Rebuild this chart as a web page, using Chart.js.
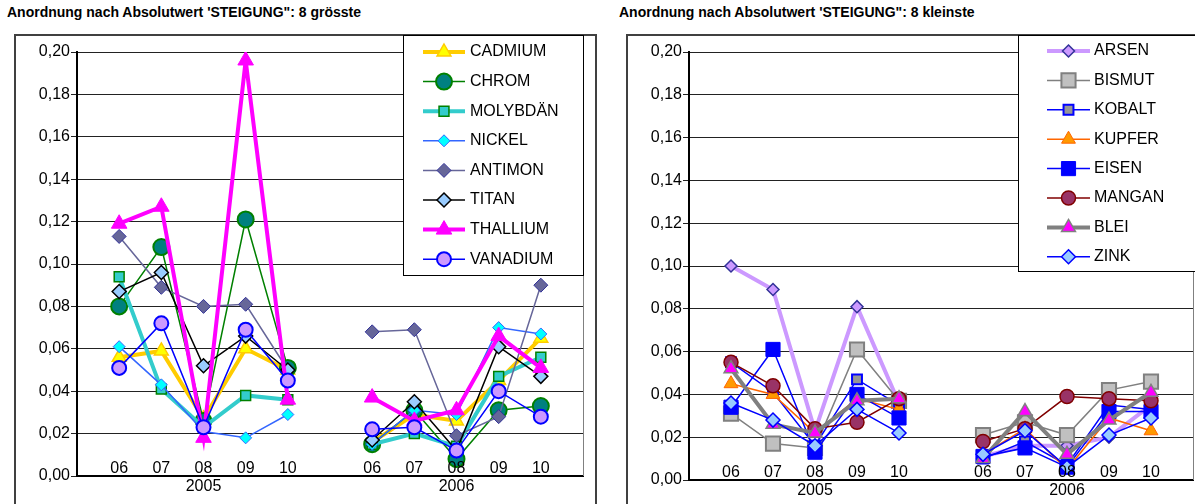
<!DOCTYPE html>
<html>
<head>
<meta charset="utf-8">
<script src="https://cdn.jsdelivr.net/npm/chart.js@4.4.0/dist/chart.umd.min.js"></script>
<style>
html, body { margin: 0; overflow: hidden; background: #fff; }
body { width: 1195px; height: 504px; font-family: 'Liberation Sans', Arial, sans-serif; }
.title { position: absolute; top: 4px; font-weight: bold; font-size: 14px; white-space: nowrap; }
.panel { position: absolute; top: 34px; height: 480px; border: 2px solid #404040; }
.box { position: absolute; top: 35px; width: 578px; height: 469px; }
</style>
</head>
<body>
<div class="title" style="left:7px">Anordnung nach Absolutwert 'STEIGUNG": 8 grösste</div>
<div class="title" style="left:619px">Anordnung nach Absolutwert 'STEIGUNG": 8 kleinste</div>
<div class="panel" style="left:14px;width:579px"></div>
<div class="panel" style="left:626px;width:600px"></div>
<div class="box" style="left:15px"><canvas id="chart1"></canvas></div>
<div class="box" style="left:627px"><canvas id="chart2"></canvas></div>
<script>
// months per year, then the two years
var monthLabels = ['06', '07', '08', '09', '10'];
var yearLabels = ['2005', '2006'];

// values: 5 months of 2005, then 5 months of 2006
// 8 groesste
var cadmium   = [0.056, 0.059, 0.027, 0.060, 0.050, 0.016, 0.029, 0.026, 0.045, 0.065];
var chrom     = [0.080, 0.108, 0.026, 0.121, 0.051, 0.015, 0.031, 0.008, 0.031, 0.033];
var molybdaen = [0.094, 0.041, 0.023, 0.038, 0.036, 0.015, 0.020, 0.014, 0.047, 0.056];
var nickel    = [0.061, 0.043, 0.021, 0.018, 0.029, 0.015, 0.031, 0.029, 0.070, 0.067];
var antimon   = [0.113, 0.089, 0.080, 0.081, 0.050, 0.068, 0.069, 0.019, 0.028, 0.090];
var titan     = [0.087, 0.096, 0.052, 0.066, 0.050, 0.017, 0.035, 0.012, 0.061, 0.047];
var thallium  = [0.119, 0.127, 0.018, 0.196, 0.036, 0.037, 0.026, 0.031, 0.066, 0.051];
var vanadium  = [0.051, 0.072, 0.023, 0.069, 0.045, 0.022, 0.023, 0.012, 0.040, 0.028];

// 8 kleinste
var arsen  = [0.100, 0.089, 0.023, 0.081, 0.036, 0.011, 0.016, 0.016, 0.020, 0.035];
var bismut = [0.031, 0.017, 0.015, 0.061, 0.037, 0.021, 0.027, 0.021, 0.042, 0.046];
var kobalt = [0.055, 0.041, 0.016, 0.047, 0.035, 0.010, 0.018, 0.007, 0.035, 0.033];
var kupfer = [0.045, 0.040, 0.022, 0.038, 0.033, 0.012, 0.024, 0.005, 0.029, 0.023];
var eisen  = [0.034, 0.061, 0.013, 0.040, 0.029, 0.011, 0.015, 0.006, 0.032, 0.032];
var mangan = [0.055, 0.044, 0.024, 0.027, 0.038, 0.018, 0.024, 0.039, 0.038, 0.037];
var blei   = [0.052, 0.026, 0.022, 0.037, 0.038, 0.010, 0.032, 0.012, 0.028, 0.041];
var zink   = [0.036, 0.028, 0.016, 0.033, 0.022, 0.012, 0.023, 0.006, 0.021, 0.029];

var FONT = "'Liberation Sans', Arial, sans-serif";
Chart.defaults.font.family = FONT;
Chart.defaults.font.size = 16;
Chart.defaults.color = '#000';

// x labels: empty slot, 06..10 (year under 08), empty slot, ...
var xLabels = [''];
yearLabels.forEach(function (yr) {
    monthLabels.forEach(function (m, j) { xLabels.push(j === 2 ? [m, yr] : m); });
    xLabels.push('');
});

function row(v) {
    return [null].concat(v.slice(0, 5), [null], v.slice(5, 10), [null]);
}

function series(label, values, color, width, style, radius, fill, border, bw) {
    return {
        label: label,
        data: row(values),
        borderColor: color,
        borderWidth: width,
        pointStyle: style,
        pointRadius: radius,
        pointHoverRadius: radius,
        pointBackgroundColor: fill,
        pointBorderColor: border,
        pointBorderWidth: bw,
        tension: 0,
        spanGaps: false
    };
}

function drawMarker(ctx, style, x, y, r, fill, stroke, bw) {
    ctx.beginPath();
    if (style === 'circle') {
        ctx.arc(x, y, r, 0, Math.PI * 2);
    } else if (style === 'rect') {
        var s = r * Math.SQRT1_2;
        ctx.rect(x - s, y - s, 2 * s, 2 * s);
    } else if (style === 'rectRot') {
        ctx.moveTo(x, y - r); ctx.lineTo(x + r, y); ctx.lineTo(x, y + r); ctx.lineTo(x - r, y);
        ctx.closePath();
    } else if (style === 'triangle') {
        ctx.moveTo(x, y - r);
        ctx.lineTo(x + 0.866 * r, y + 0.5 * r);
        ctx.lineTo(x - 0.866 * r, y + 0.5 * r);
        ctx.closePath();
    }
    ctx.fillStyle = fill;
    ctx.fill();
    ctx.lineWidth = bw;
    ctx.strokeStyle = stroke;
    ctx.stroke();
}

// month labels sit just above the axis line (inside the plot), years below it;
// then the grey right edge of the plot and the boxed legend
var boxLegend = {
    id: 'boxLegend',
    afterDraw: function (chart, args, o) {
        var ctx = chart.ctx, a = chart.chartArea, xs = chart.scales.x;
        ctx.save();
        ctx.fillStyle = '#000';
        ctx.font = '16px ' + FONT;
        ctx.textAlign = 'center';
        ctx.textBaseline = 'middle';
        chart.data.labels.forEach(function (lab, i) {
            var x = xs.getPixelForTick(i);
            var lines = Array.isArray(lab) ? lab : [lab];
            if (lines[0]) ctx.fillText(lines[0], x, a.bottom - 7);
            if (lines[1]) ctx.fillText(lines[1], x, a.bottom + 11);
        });

        ctx.strokeStyle = '#808080';
        ctx.lineWidth = 1;
        ctx.beginPath();
        ctx.moveTo(Math.round(a.right) + 0.5, a.top);
        ctx.lineTo(Math.round(a.right) + 0.5, a.bottom);
        ctx.stroke();

        ctx.fillStyle = '#fff';
        ctx.fillRect(o.x, o.y, o.w, o.h);
        ctx.strokeStyle = '#000';
        ctx.strokeRect(o.x + 0.5, o.y + 0.5, o.w, o.h);

        chart.data.datasets.forEach(function (ds, i) {
            var y = o.firstY + i * o.step;
            ctx.strokeStyle = ds.borderColor;
            ctx.lineWidth = ds.borderWidth;
            ctx.beginPath();
            ctx.moveTo(o.lineX1, y);
            ctx.lineTo(o.lineX2, y);
            ctx.stroke();
            drawMarker(ctx, ds.pointStyle, (o.lineX1 + o.lineX2) / 2, y, ds.pointRadius,
                ds.pointBackgroundColor, ds.pointBorderColor, ds.pointBorderWidth);
            ctx.fillStyle = '#000';
            ctx.font = '16px ' + FONT;
            ctx.textBaseline = 'middle';
            ctx.textAlign = 'left';
            ctx.fillText(ds.label, o.textX, y);
        });
        ctx.restore();
    }
};

function makeChart(id, datasets, legendOpts, xHeight) {
    var n = datasets.length;
    datasets.forEach(function (ds, i) { ds.order = n - i; });
    return new Chart(document.getElementById(id), {
        type: 'line',
        data: { labels: xLabels, datasets: datasets },
        plugins: [boxLegend],
        options: {
            responsive: true,
            maintainAspectRatio: false,
            animation: false,
            layout: { padding: { top: 17, right: 1, left: 0, bottom: 0 } },
            plugins: {
                legend: { display: false },
                tooltip: { enabled: false },
                boxLegend: legendOpts
            },
            scales: {
                x: {
                    offset: false,
                    grid: { display: false, drawTicks: false },
                    border: { display: true, color: '#000', width: 2 },
                    ticks: { display: false, autoSkip: false },
                    afterFit: function (s) { s.height = xHeight; }
                },
                y: {
                    min: 0,
                    max: 0.2,
                    grid: { color: '#222', lineWidth: 1, tickLength: 6 },
                    border: { display: true, color: '#000', width: 2 },
                    ticks: {
                        stepSize: 0.02,
                        padding: 1,
                        color: '#000',
                        callback: function (v) { return v.toFixed(2).replace('.', ','); }
                    },
                    afterFit: function (s) { s.width = 62; }
                }
            }
        }
    });
}

makeChart('chart1', [
    series('CADMIUM', cadmium, '#ffcc00', 4, 'triangle', 8, '#ffff00', '#ffcc00', 1.5),
    series('CHROM', chrom, '#008000', 1.5, 'circle', 8, '#008080', '#008000', 2),
    series('MOLYBDÄN', molybdaen, '#33cccc', 4, 'rect', 7, '#33cccc', '#008000', 1.5),
    series('NICKEL', nickel, '#3366ff', 1.5, 'rectRot', 6, '#00ffff', '#3366ff', 1),
    series('ANTIMON', antimon, '#666699', 1.5, 'rectRot', 7, '#666699', '#333399', 1),
    series('TITAN', titan, '#000000', 1.5, 'rectRot', 7, '#99ccff', '#000000', 1.5),
    series('THALLIUM', thallium, '#ff00ff', 4, 'triangle', 9, '#ff00ff', '#ff00ff', 1),
    series('VANADIUM', vanadium, '#0000ff', 1.5, 'circle', 7, '#cc99ff', '#0000ff', 2)
], { x: 388, y: 0, w: 180, h: 240, lineX1: 408, lineX2: 450, textX: 455, firstY: 17, step: 29.6 }, 28);

makeChart('chart2', [
    series('ARSEN', arsen, '#cc99ff', 4, 'rectRot', 6, '#cc99ff', '#333399', 1.5),
    series('BISMUT', bismut, '#808080', 1.5, 'rect', 10, '#c0c0c0', '#808080', 2),
    series('KOBALT', kobalt, '#0000ff', 1.5, 'rect', 7, '#969696', '#0000ff', 2),
    series('KUPFER', kupfer, '#ff6600', 1.5, 'triangle', 8, '#ff9900', '#ff6600', 1),
    series('EISEN', eisen, '#0000ff', 1.5, 'rect', 10, '#0000ff', '#0000ff', 1),
    series('MANGAN', mangan, '#800000', 1.5, 'circle', 7, '#993366', '#800000', 1.5),
    series('BLEI', blei, '#808080', 4, 'triangle', 8, '#ff00ff', '#808080', 1.5),
    series('ZINK', zink, '#0000ff', 1.5, 'rectRot', 7, '#99ccff', '#0000ff', 1.5)
], { x: 391, y: 0, w: 200, h: 236, lineX1: 420, lineX2: 463, textX: 467, firstY: 16, step: 29.4 }, 24);
</script>
</body>
</html>
